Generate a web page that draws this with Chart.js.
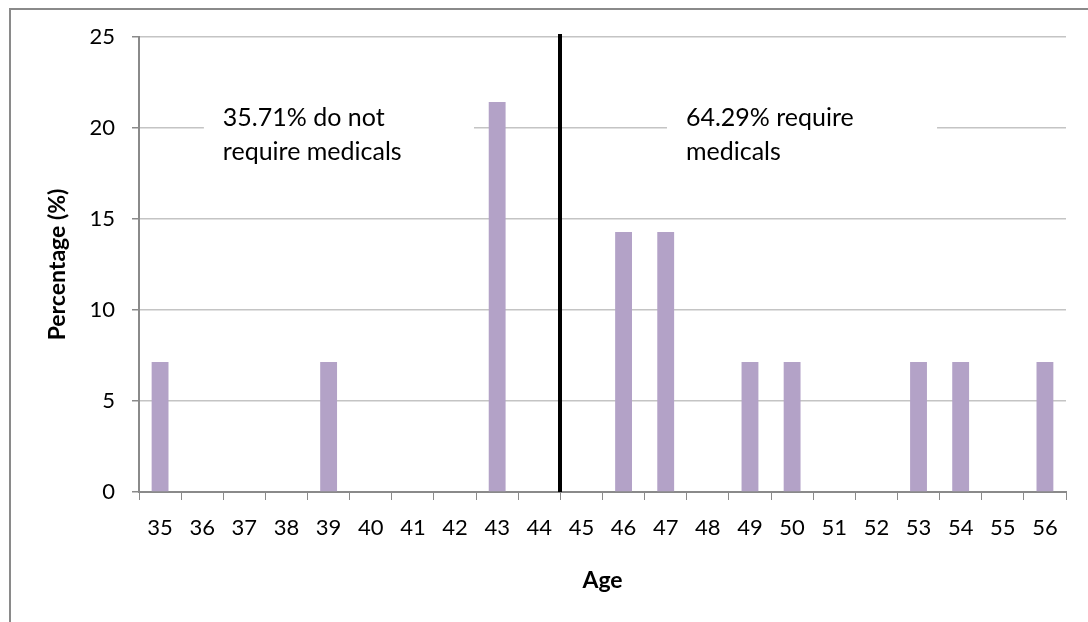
<!DOCTYPE html>
<html>
<head>
<meta charset="utf-8">
<script src="https://cdn.jsdelivr.net/npm/chart.js@4"></script>
<style>
  html, body { margin: 0; padding: 0; background: #fff; overflow: hidden; }
  .frame { position: absolute; left: 9px; top: 8px; width: 1100px; height: 640px; border-left: 2px solid #8a8a8a; border-top: 2px solid #8a8a8a; }
  .wrap { position: absolute; left: 0; top: 0; width: 1088px; height: 622px; }
</style>
</head>
<body>
<div class="frame"></div>
<div class="wrap"><canvas id="ageChart"></canvas></div>
<script>
const ages = ['35', '36', '37', '38', '39', '40', '41', '42', '43', '44', '45',
  '46', '47', '48', '49', '50', '51', '52', '53', '54', '55', '56'];
const percentages = [7.14, 0, 0, 0, 7.14, 0, 0, 0, 21.43, 0, 0,
  14.29, 14.29, 0, 7.14, 7.14, 0, 0, 7.14, 7.14, 0, 7.14];
const yTicks = [0, 5, 10, 15, 20, 25];
const leftNote = ['35.71% do not', 'require medicals'];
const rightNote = ['64.29% require', 'medicals'];
const cutoffBetween = ['44', '45'];

const FONT = 'Lato, "Open Sans", sans-serif';

// cutoff line + the two text boxes
const notesPlugin = {
  id: 'notes',
  afterDatasetsDraw(chart) {
    const { ctx, chartArea, scales: { x, y } } = chart;
    const at = i => x.getPixelForValue(i);
    const base = y.getPixelForValue(20) - 2;

    ctx.save();
    ctx.font = '25px ' + FONT;
    ctx.textBaseline = 'alphabetic';
    ctx.textAlign = 'left';

    const boxes = [
      { from: 1.04, to: 7.45, textAt: 1.49, lines: leftNote },
      { from: 12.03, to: 18.44, textAt: 12.48, lines: rightNote }
    ];
    boxes.forEach(b => {
      ctx.fillStyle = '#fff';
      ctx.fillRect(at(b.from), base - 24, at(b.to) - at(b.from), 60);
      ctx.fillStyle = '#000';
      b.lines.forEach((t, k) => ctx.fillText(t, at(b.textAt), base + k * 34));
    });

    const i0 = ages.indexOf(cutoffBetween[0]);
    const i1 = ages.indexOf(cutoffBetween[1]);
    const cx = Math.round((at(i0) + at(i1)) / 2);
    ctx.strokeStyle = '#000';
    ctx.lineWidth = 4;
    ctx.beginPath();
    ctx.moveTo(cx, chartArea.top - 3);
    ctx.lineTo(cx, chartArea.bottom);
    ctx.stroke();
    ctx.restore();
  }
};

new Chart(document.getElementById('ageChart'), {
  type: 'bar',
  data: {
    labels: ages,
    datasets: [{
      data: percentages,
      backgroundColor: '#b3a2c7',
      borderWidth: 0,
      categoryPercentage: 1,
      barPercentage: 0.4
    }]
  },
  options: {
    responsive: true,
    maintainAspectRatio: false,
    animation: false,
    layout: { padding: { left: 0, top: 37, right: 22, bottom: 0 } },
    plugins: {
      legend: { display: false },
      tooltip: { enabled: false }
    },
    scales: {
      x: {
        offset: true,
        grid: { offset: true, drawOnChartArea: false, drawTicks: true, tickLength: 8, tickColor: '#8a8a8a' },
        border: { color: '#8a8a8a', width: 2 },
        ticks: { color: '#000', font: { family: FONT, size: 22 }, padding: 15, maxRotation: 0, autoSkip: false },
        title: { display: true, text: 'Age', color: '#000', font: { family: FONT, size: 23, weight: 'bold' }, padding: { top: 0, bottom: 28 } },
        afterFit(s) { s.height = 130; }
      },
      y: {
        min: 0,
        max: 25,
        afterBuildTicks(s) { s.ticks = yTicks.map(v => ({ value: v })); },
        grid: { color: '#c4c4c4', lineWidth: 1.5, drawTicks: true, tickLength: 7, tickColor: '#8a8a8a' },
        border: { color: '#8a8a8a', width: 2 },
        ticks: { color: '#000', font: { family: FONT, size: 22 }, padding: 17 },
        title: { display: true, text: 'Percentage (%)', color: '#000', font: { family: FONT, size: 23, weight: 'bold' }, padding: { top: 44, bottom: 0 } },
        afterFit(s) { s.width = 139; }
      }
    }
  },
  plugins: [notesPlugin]
});
</script>
</body>
</html>
